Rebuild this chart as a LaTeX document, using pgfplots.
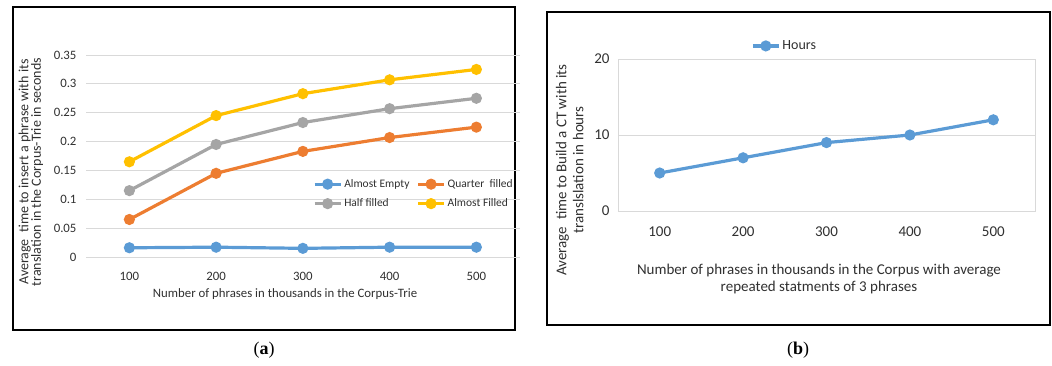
\documentclass[border=0pt]{standalone}
\usepackage{pgfplots}
\pgfplotsset{compat=1.18}
\usepackage{fontspec}
\setmainfont{Carlito}
\newfontfamily\seriffont{Liberation Serif}
\definecolor{cblue}{HTML}{5B9BD5}
\definecolor{corange}{HTML}{ED7D31}
\definecolor{cgray}{HTML}{A5A5A5}
\definecolor{cyellow}{HTML}{FFC000}
\definecolor{ctext}{HTML}{303030}
\definecolor{cgrid}{HTML}{D9D9D9}
\pgfplotsset{
  excel/.style={
    scale only axis, clip=false,
    xmin=50, xmax=550,
    xtick={100,200,300,400,500},
    axis line style={draw=none},
    tick style={draw=none},
    ymajorgrids, major grid style={cgrid, line width=1pt},
    /pgf/number format/assume math mode=true,
    /pgf/number format/fixed,
    /pgf/number format/precision=2,
    ticklabel style={text=ctext},
    label style={text=ctext},
    legend cell align=left,
    legend image code/.code={\draw[mark repeat=2,mark phase=2,##1] plot coordinates {(0pt,0pt) (13pt,0pt) (26pt,0pt)};},
  },
  ser/.style={line width=3.2pt, mark=*, mark size=3.9pt, mark options={solid}},
}
\begin{document}
\begin{tikzpicture}[x=1pt,y=1pt]
\path[use as bounding box] (0,0) rectangle (1052,365);
\draw[line width=1.6pt] (13,35) rectangle (515,358);
\draw[line width=1.6pt] (547,40) rectangle (1050,353);
\node[font=\seriffont\fontsize{18}{20}\selectfont] at (264,15) {(\textbf{a})};
\node[font=\seriffont\fontsize{18}{20}\selectfont] at (798,15) {(\textbf{b})};

% ---------------- (a)
\begin{axis}[excel,
  at={(86pt,108pt)}, anchor=south west,
  width=433.75pt, height=202pt,
  ymin=0, ymax=0.35,
  ytick={0,0.05,0.1,0.15,0.2,0.25,0.3,0.35},
  font=\fontsize{12.8}{15}\selectfont,
  xticklabel style={yshift=-12pt},
  yticklabel style={xshift=-6pt},
  xlabel={Number of phrases in thousands in the Corpus-Trie},
  xlabel style={at={(axis description cs:0.459,-0.183)}, anchor=center},
  ylabel={Average\ \ time to insert a phrase with its\\translation in the Corpus-Trie in seconds},
  ylabel style={at={(axis description cs:-0.127,0.42)}, anchor=center, align=center, font=\fontsize{14}{12.5}\selectfont},
  legend columns=2,
  legend style={at={(axis description cs:0.523,0.395)}, anchor=north west, draw=none, fill=none, inner sep=0pt,
    font=\fontsize{11.5}{13}\selectfont, text=ctext, row sep=6pt,
    /tikz/every even column/.append style={column sep=5pt}},
]
\addplot[ser, cblue] coordinates {(100,0.016) (200,0.017) (300,0.015) (400,0.017) (500,0.017)};
\addlegendentry{Almost Empty}
\addplot[ser, corange] coordinates {(100,0.065) (200,0.145) (300,0.183) (400,0.207) (500,0.225)};
\addlegendentry{Quarter\ \ filled}
\addplot[ser, cgray] coordinates {(100,0.115) (200,0.195) (300,0.233) (400,0.257) (500,0.275)};
\addlegendentry{Half filled}
\addplot[ser, cyellow] coordinates {(100,0.165) (200,0.245) (300,0.283) (400,0.307) (500,0.325)};
\addlegendentry{Almost Filled}
\end{axis}

% ---------------- (b)
\begin{axis}[excel,
  at={(618pt,154pt)}, anchor=south west,
  width=417pt, height=152pt,
  ymin=0, ymax=20,
  ytick={0,10,20},
  axis line style={draw=cgrid, line width=1pt},
  font=\fontsize{15}{17}\selectfont,
  xticklabel style={yshift=-12pt},
  yticklabel style={xshift=-5pt},
  xlabel={Number of phrases in thousands in the Corpus with average\\repeated statments of 3 phrases},
  xlabel style={at={(axis description cs:0.482,-0.45)}, anchor=center, align=center, font=\fontsize{15}{17}\selectfont},
  ylabel={Average\ \ time to Build a CT with its\\translslation in hours},
  ylabel style={at={(axis description cs:-0.116,0.27)}, anchor=center, align=center, font=\fontsize{15}{17}\selectfont},
  legend style={at={(axis description cs:0.319,1.086)}, anchor=west, draw=none, fill=none, inner sep=0pt,
    font=\fontsize{14}{16}\selectfont, text=ctext},
]
\addplot[ser, cblue] coordinates {(100,5) (200,7) (300,9) (400,10) (500,12)};
\addlegendentry{Hours}
\end{axis}
\end{tikzpicture}
\end{document}
